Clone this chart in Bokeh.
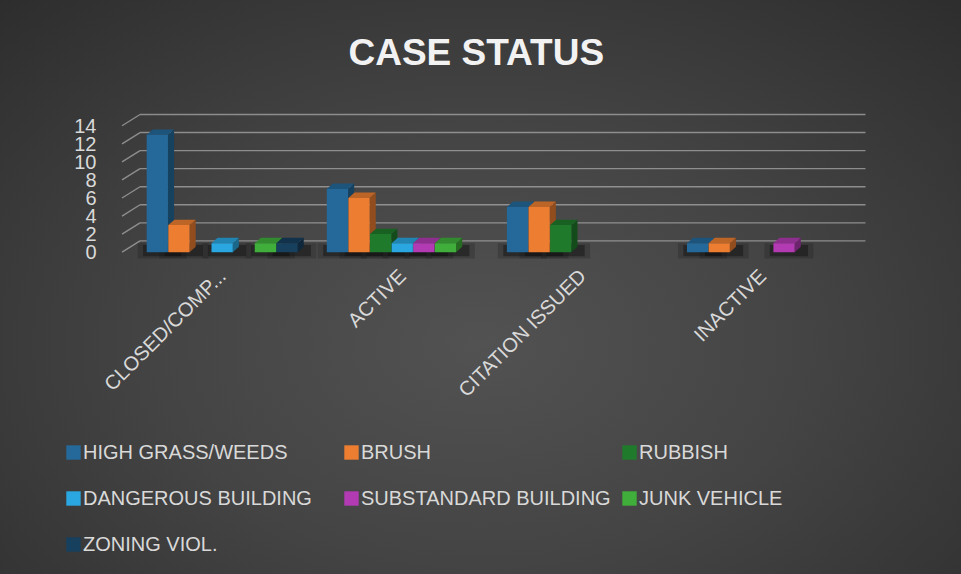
from math import pi
from bokeh.plotting import figure
from bokeh.layouts import column
from bokeh.models import Range1d, FixedTicker, Legend, LegendItem, ColumnDataSource
from bokeh.embed import file_html
from bokeh.resources import INLINE

# ---------------- data ----------------
categories = ["CLOSED/COMP...", "ACTIVE", "CITATION ISSUED", "INACTIVE"]
series_names = ["HIGH GRASS/WEEDS", "BRUSH", "RUBBISH", "DANGEROUS BUILDING",
                "SUBSTANDARD BUILDING", "JUNK VEHICLE", "ZONING VIOL."]
high_grass = [13, 7, 5, 1]
brush = [3, 6, 5, 1]
rubbish = [0, 2, 3, 0]
dangerous_building = [1, 1, 0, 0]
substandard_building = [0, 1, 0, 1]
junk_vehicle = [1, 1, 0, 0]
zoning_viol = [1, 0, 0, 0]
y_ticks = [0, 2, 4, 6, 8, 10, 12, 14]

series_values = [high_grass, brush, rubbish, dangerous_building,
                 substandard_building, junk_vehicle, zoning_viol]
colors = ["#25699a", "#ed7d31", "#1f7a2c", "#2aa7e0", "#b23ab2", "#3fae3a", "#173f5e"]

FONT = "Liberation Sans"
TXT = "#d9d9d9"


def shade(hex_color, f):
    h = hex_color.lstrip("#")
    r, g, b = (int(h[i:i + 2], 16) for i in (0, 2, 4))
    return "#%02x%02x%02x" % (int(r * f), int(g * f), int(b * f))


# ---------------- main chart ----------------
p = figure(width=961, height=420,
           x_range=Range1d(-0.57, 3.6), y_range=Range1d(-0.7, 19.9),
           output_backend="svg", toolbar_location=None,
           min_border_left=119, min_border_right=91,
           min_border_top=72, min_border_bottom=162)
p.background_fill_alpha = 0
p.border_fill_alpha = 0
p.outline_line_color = None

p.title.text = "CASE STATUS"
p.title.align = "left"
p.title.offset = 229
p.title.text_font = FONT
p.title.text_font_size = "37px"
p.title.text_font_style = "bold"
p.title.text_color = "#f2f2f2"
p.title.standoff = 0

p.xgrid.visible = False
p.ygrid.visible = False

# gridlines drawn as a 3D back wall
gx0, gdx, gx1 = -0.556, 0.10, 3.572
gdy = 1.25
grid_src = ColumnDataSource(dict(
    x0=[gx0] * len(y_ticks), y0=y_ticks,
    xm=[gx0 + gdx] * len(y_ticks), ym=[t + gdy for t in y_ticks],
    x1=[gx1] * len(y_ticks)))
p.segment(x0="x0", y0="y0", x1="xm", y1="ym", source=grid_src,
          line_color="#a8a8a8", line_width=1.4, line_alpha=0.75)
p.segment(x0="xm", y0="ym", x1="x1", y1="ym", source=grid_src,
          line_color="#a8a8a8", line_width=1.4, line_alpha=0.75)

n = len(series_values)
step = 0.12
w = 0.118
ddx = 0.034
ddy = 0.6
xs_cat = list(range(len(categories)))

# floor shadows under the bars (soft, two layers)
sh_l, sh_r = [], []
for j, vals in enumerate(series_values):
    for i, v in enumerate(vals):
        if v > 0:
            xc = xs_cat[i] + (j - (n - 1) / 2) * step
            sh_l.append(xc - w / 2)
            sh_r.append(xc + w / 2 + ddx)
p.quad(left=[l - 0.05 for l in sh_l], right=[r + 0.07 for r in sh_r],
       bottom=[-0.8] * len(sh_l), top=[1.0] * len(sh_l),
       fill_color="#111111", fill_alpha=0.22, line_color=None)
p.quad(left=[l - 0.02 for l in sh_l], right=[r + 0.04 for r in sh_r],
       bottom=[-0.45] * len(sh_l), top=[0.8] * len(sh_l),
       fill_color="#0a0a0a", fill_alpha=0.4, line_color=None)

for j, vals in enumerate(series_values):
    xc = [xs_cat[i] + (j - (n - 1) / 2) * step for i in range(len(vals))]
    nz = [(x, v) for x, v in zip(xc, vals) if v > 0]
    side_xs = [[x + w / 2, x + w / 2 + ddx, x + w / 2 + ddx, x + w / 2] for x, v in nz]
    side_ys = [[0, ddy, v + ddy, v] for x, v in nz]
    top_xs = [[x - w / 2, x + w / 2, x + w / 2 + ddx, x - w / 2 + ddx] for x, v in nz]
    top_ys = [[v, v, v + ddy, v + ddy] for x, v in nz]
    if nz:
        p.patches(xs=side_xs, ys=side_ys, fill_color=shade(colors[j], 0.62), line_color=None)
        p.patches(xs=top_xs, ys=top_ys, fill_color=shade(colors[j], 0.8), line_color=None)
    p.vbar(x=xc, top=vals, bottom=0, width=w, fill_color=colors[j], line_color=None)

p.yaxis.ticker = FixedTicker(ticks=y_ticks)
p.yaxis.axis_line_color = None
p.yaxis.major_tick_line_color = None
p.yaxis.minor_tick_line_color = None
p.yaxis.major_label_text_font = FONT
p.yaxis.major_label_text_font_size = "20px"
p.yaxis.major_label_text_color = TXT
p.yaxis.major_label_standoff = 17

p.xaxis.ticker = FixedTicker(ticks=xs_cat)
p.xaxis.major_label_overrides = {i: c for i, c in zip(xs_cat, categories)}
p.xaxis.major_label_orientation = pi / 4
p.xaxis.axis_line_color = None
p.xaxis.major_tick_line_color = None
p.xaxis.minor_tick_line_color = None
p.xaxis.major_label_text_font = FONT
p.xaxis.major_label_text_font_size = "20px"
p.xaxis.major_label_text_color = TXT
p.xaxis.major_label_standoff = 8

# ---------------- legend strip ----------------
lg = figure(width=961, height=154, x_range=Range1d(0, 1), y_range=Range1d(0, 1),
            output_backend="svg", toolbar_location=None,
            x_axis_location=None, y_axis_location=None, min_border=0)
lg.background_fill_alpha = 0
lg.border_fill_alpha = 0
lg.outline_line_color = None
lg.xgrid.visible = False
lg.ygrid.visible = False
for fig in (p, lg):
    if hasattr(fig, "frame_align"):
        fig.frame_align = False
# hidden key glyphs (outside the strip's range) that give the legend its swatches
keys = [lg.vbar(x=[-5], top=[0], width=0.1, fill_color=c, line_color=None) for c in colors]
items = [LegendItem(label=name, renderers=[r]) for name, r in zip(series_names, keys)]
legend = Legend(items=items, location=(64, 7), orientation="horizontal", ncols=3,
                label_text_font=FONT, label_text_font_size="20px", label_text_color=TXT,
                glyph_width=18, glyph_height=18, label_standoff=1, spacing=0,
                label_width=259, label_height=46,
                padding=0, margin=0, background_fill_alpha=0, border_line_color=None)
lg.add_layout(legend)

page = column(p, lg, spacing=0,
              styles={"background": "radial-gradient(ellipse 75% 85% at 50% 60%, #525252 0%, #444444 45%, #2c2c2c 100%)"})

open("out.html", "w").write(file_html(page, INLINE))
